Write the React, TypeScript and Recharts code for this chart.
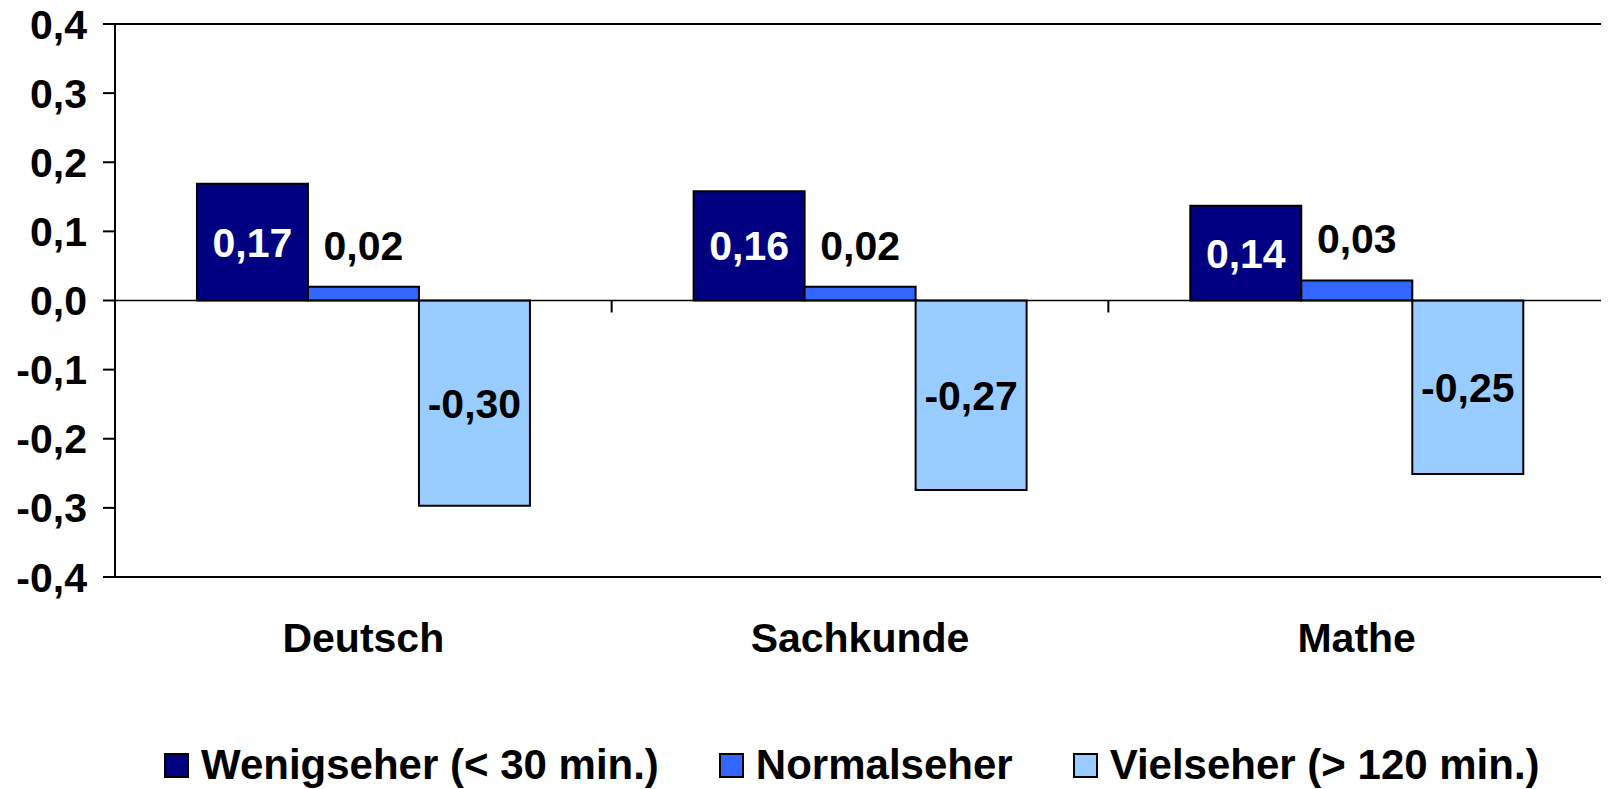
import * as React from 'react';
import { BarChart, Bar, XAxis, YAxis, LabelList, Legend, ReferenceLine, ReferenceArea } from 'recharts';

// values
const categories = ['Deutsch', 'Sachkunde', 'Mathe'];
const wenigseher = [0.169, 0.158, 0.137];
const normalseher = [0.02, 0.02, 0.029];
const vielseher = [-0.297, -0.274, -0.251];
const yTicks = [-0.4, -0.3, -0.2, -0.1, 0, 0.1, 0.2, 0.3, 0.4];
const seriesNames = ['Wenigseher (< 30 min.)', 'Normalseher', 'Vielseher (> 120 min.)'];
const colors = ['#000080', '#3366FF', '#99CCFF'];

const data = categories.map((name, i) => ({
	name,
	w: wenigseher[i],
	n: normalseher[i],
	v: vielseher[i],
}));

const FONT = 'Arial, "Liberation Sans", sans-serif';
const comma = (v: number, d: number) => v.toFixed(d).replace('.', ',');

// zero line with tick marks between the categories
const ZeroLine = (props: any) => {
	const { x1, x2, y1 } = props;
	const step = (x2 - x1) / categories.length;
	return (
		<g>
			<line x1={x1} x2={x2} y1={y1} y2={y1} stroke="#000" strokeWidth={1.5} />
			{categories.slice(1).map((_, i) => (
				<line key={i} x1={x1 + step * (i + 1)} x2={x1 + step * (i + 1)} y1={y1} y2={y1 + 12} stroke="#000" strokeWidth={2} />
			))}
		</g>
	);
};

const CategoryTick = (props: any) => {
	const { x, y, payload } = props;
	return (
		<text x={x} y={y} dy="0.71em" textAnchor="middle" fill="#000" fontSize={41} fontWeight="bold" fontFamily={FONT}>
			{payload.value}
		</text>
	);
};

const renderLegend = () => (
	<div style={{ display: 'flex', alignItems: 'center', height: 48, gap: 60, fontFamily: FONT, fontWeight: 'bold', fontSize: 42, color: '#000' }}>
		{seriesNames.map((n, i) => (
			<div key={n} style={{ display: 'flex', alignItems: 'center' }}>
				<span style={{ display: 'inline-block', width: 25, height: 25, background: colors[i], border: '2px solid #000', boxSizing: 'border-box', marginRight: 12 }} />
				<span style={{ whiteSpace: 'nowrap' }}>{n}</span>
			</div>
		))}
	</div>
);

const labelStyle = { fontSize: 41, fontWeight: 'bold', fontFamily: FONT };

export default function App() {
	return (
		<div style={{ marginTop: -8 }}>
			<BarChart
				width={1601}
				height={789}
				data={data}
				margin={{ top: 24, right: 4, bottom: 0, left: 0 }}
				barCategoryGap="16.5%"
				barGap={0}
				style={{ fontFamily: FONT }}
			>
				<ReferenceArea y1={-0.4} y2={0.4} fill="none" stroke="#000" strokeWidth={2} ifOverflow="visible" />
				<XAxis dataKey="name" axisLine={false} tickLine={false} tickSize={0} tickMargin={46} height={164} tick={<CategoryTick />} interval={0} />
				<YAxis
					domain={[-0.4, 0.4]}
					ticks={yTicks}
					width={107}
					tickSize={12}
					tickMargin={16}
					interval={0}
					axisLine={{ stroke: '#000', strokeWidth: 2 }}
					tickLine={{ stroke: '#000', strokeWidth: 2 }}
					tick={{ fill: '#000', fontSize: 41, fontWeight: 'bold', fontFamily: FONT }}
					tickFormatter={(v: number) => comma(v, 1)}
				/>
				<Bar dataKey="w" name={seriesNames[0]} fill={colors[0]} stroke="#000" strokeWidth={2} isAnimationActive={false}>
					<LabelList dataKey="w" position="center" fill="#fff" style={labelStyle} formatter={(v: number) => comma(v, 2)} />
				</Bar>
				<Bar dataKey="n" name={seriesNames[1]} fill={colors[1]} stroke="#000" strokeWidth={2} isAnimationActive={false}>
					<LabelList dataKey="n" position="top" offset={27} fill="#000" style={labelStyle} formatter={(v: number) => comma(v, 2)} />
				</Bar>
				<Bar dataKey="v" name={seriesNames[2]} fill={colors[2]} stroke="#000" strokeWidth={2} isAnimationActive={false}>
					<LabelList dataKey="v" position="center" fill="#000" style={labelStyle} formatter={(v: number) => comma(v, 2)} />
				</Bar>
				<ReferenceLine y={0} shape={<ZeroLine />} />
				<Legend verticalAlign="bottom" content={renderLegend} wrapperStyle={{ left: 156, width: 1420, bottom: 0 }} />
			</BarChart>
		</div>
	);
}
